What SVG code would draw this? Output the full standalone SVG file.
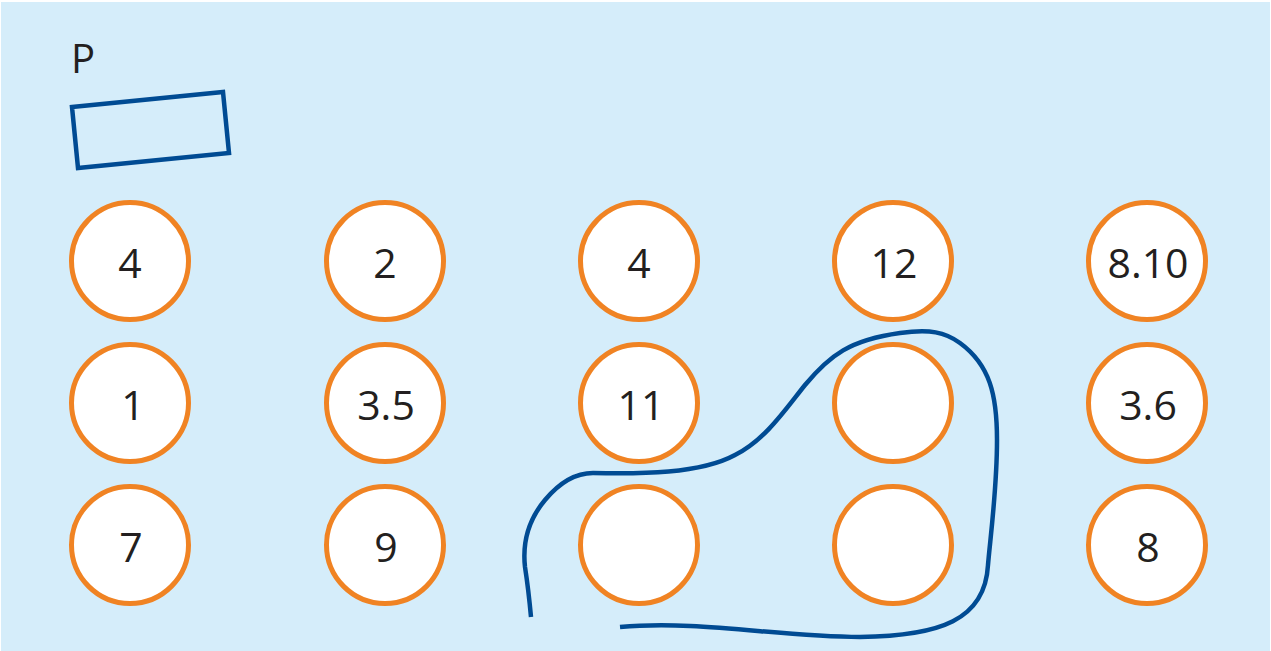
<svg xmlns="http://www.w3.org/2000/svg" width="1271" height="651" viewBox="0 0 1271 651">
<style>
.n circle{fill:#ffffff;stroke:#F08323;stroke-width:5}
.n text{font-family:"Open Sans","Noto Sans",sans-serif;font-size:41px;fill:#231F20;text-anchor:middle}
.lbl{font-family:"Open Sans","Noto Sans",sans-serif;font-size:40px;fill:#231F20}
.blue{fill:none;stroke:#004B93;stroke-width:4.5;stroke-linejoin:miter}
</style>
<rect x="0" y="0" width="1271" height="651" fill="#ffffff"/>
<rect x="1" y="2" width="1269" height="649" fill="#D5EDFA"/>
<g id="P">
<text class="lbl" x="71" y="73">P</text>
<polygon class="blue" points="72,107 223,92 229,153 78,168"/>
</g>
<g id="n1" class="n"><circle cx="130" cy="261" r="58.5"/><text x="130" y="278">4</text></g>
<g id="n2" class="n"><circle cx="385" cy="261" r="58.5"/><text x="385" y="278">2</text></g>
<g id="n3" class="n"><circle cx="639" cy="261" r="58.5"/><text x="639" y="278">4</text></g>
<g id="n4" class="n"><circle cx="893" cy="261" r="58.5"/><text x="894" y="278">12</text></g>
<g id="n5" class="n"><circle cx="1147" cy="261" r="58.5"/><text x="1148" y="278">8.10</text></g>
<g id="n6" class="n"><circle cx="130" cy="403" r="58.5"/><text x="133" y="420">1</text></g>
<g id="n7" class="n"><circle cx="385" cy="403" r="58.5"/><text x="386" y="420">3.5</text></g>
<g id="n8" class="n"><circle cx="639" cy="403" r="58.5"/><text x="641" y="420">11</text></g>
<g id="n9" class="n"><circle cx="893" cy="403" r="58.5"/></g>
<g id="n10" class="n"><circle cx="1147" cy="403" r="58.5"/><text x="1148" y="420">3.6</text></g>
<g id="n11" class="n"><circle cx="130" cy="545" r="58.5"/><text x="131" y="562">7</text></g>
<g id="n12" class="n"><circle cx="385" cy="545" r="58.5"/><text x="386" y="562">9</text></g>
<g id="n13" class="n"><circle cx="639" cy="545" r="58.5"/></g>
<g id="n14" class="n"><circle cx="893" cy="545" r="58.5"/></g>
<g id="n15" class="n"><circle cx="1147" cy="545" r="58.5"/><text x="1148" y="562">8</text></g>
<g id="connectors">
<path class="blue" d="M 531 617 C 529 595, 527 580, 525 567 C 522 540, 530 518, 545 500 C 560 482, 575 473, 593 473 C 640 474, 700 474, 735 455 C 765 440, 785 410, 805 385 C 830 355, 850 340, 900 333 C 930 329, 945 332, 960 343 C 990 365, 997 395, 997 440 C 997 490, 990 540, 988 565 C 985 620, 940 636, 860 637 C 780 637, 700 620, 620 627"/>
</g>
</svg>
